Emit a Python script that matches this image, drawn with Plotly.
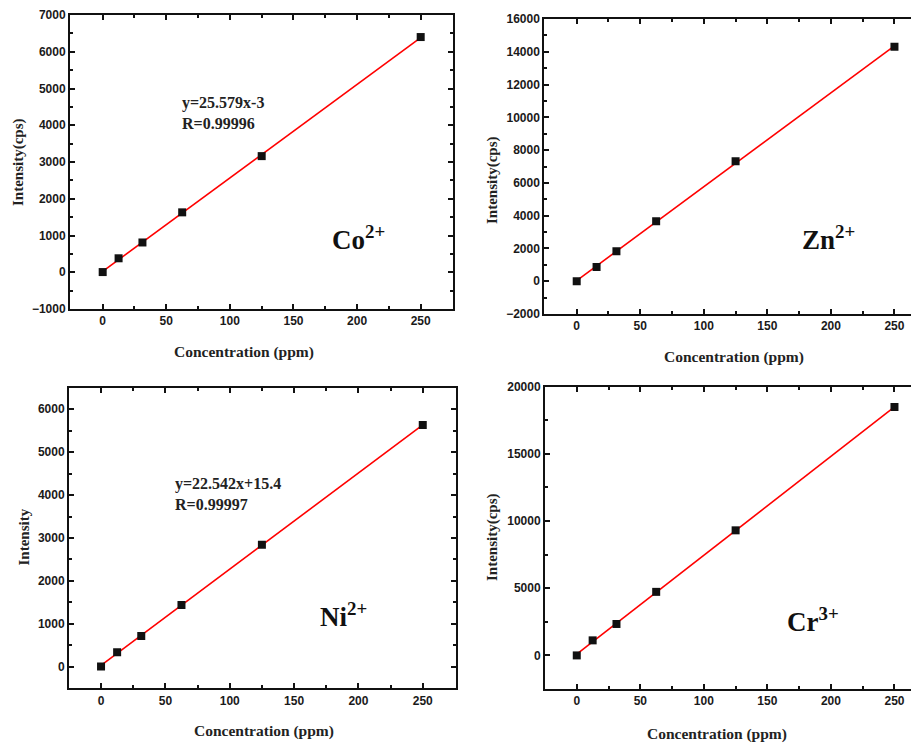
import numpy as np
import plotly.graph_objects as go

W, H = 919, 744
OFF = 8  # page body margin offset

# ---- data ----
co_x = [0, 12.5, 31.25, 62.5, 125, 250]
co_y = [5, 380, 810, 1630, 3160, 6400]
zn_x = [0, 15.625, 31.25, 62.5, 125, 250]
zn_y = [0, 875, 1830, 3660, 7320, 14300]
ni_x = [0, 12.5, 31.25, 62.5, 125, 250]
ni_y = [10, 340, 720, 1440, 2840, 5630]
cr_x = [0, 12.5, 31.25, 62.5, 125, 250]
cr_y = [0, 1120, 2340, 4730, 9310, 18480]

ion_labels = ["Co<sup>2+</sup>", "Zn<sup>2+</sup>", "Ni<sup>2+</sup>", "Cr<sup>3+</sup>"]
eq_texts = ["y=25.579x-3<br>R=0.99996", None, "y=22.542x+15.4<br>R=0.99997", None]
y_titles = ["Intensity(cps)", "Intensity(cps)", "Intensity", "Intensity(cps)"]
x_title = "Concentration (ppm)"

datasets = [(co_x, co_y), (zn_x, zn_y), (ni_x, ni_y), (cr_x, cr_y)]

# ---- layout geometry (viewport pixels) ----
# (left, right, top, bottom) of plot frames
frames = [(70, 453, 15, 309), (544.3, 927, 19, 314), (69, 455.7, 387.7, 688.3), (545, 927, 386.7, 689)]
xranges = [[-25.7, 275.4], [-25.5, 275.6], [-24.9, 275.6], [-25.0, 275.6]]
yranges = [[-1000, 7000], [-2000, 16000], [-500, 6500], [-2500, 20000]]
ydticks = [1000, 2000, 1000, 5000]
mirror_y = [True, False, True, False]

# annotation positions in data coords
eq_pos = [(60.8, 4578), None, (56.2, 4227), None]
ion_pos = [(178.7, 932), (175.7, 2656), (168.8, 1196), (163.9, 2667)]
# axis title centres in viewport pixels
xtitle_px = [(243.5, 351.7), (734, 356.7), (264, 730.7), (716.7, 734)]
ytitle_px = [(18, 162), (492, 180), (23, 537.5), (492, 537)]


def px(x):
    return (x - OFF) / W


def py(y):
    return 1 - (y - OFF) / H


fig = go.Figure()
tickfont = dict(family="Liberation Sans", size=12, color="#1a1a1a", weight="bold")
serif = "Liberation Serif"

for i, (xs, ys) in enumerate(datasets):
    n = "" if i == 0 else str(i + 1)
    xa, ya = "x" + n, "y" + n
    slope, icpt = np.polyfit(xs, ys, 1)
    fx = [min(xs), max(xs)]
    fy = [slope * v + icpt for v in fx]
    fig.add_trace(go.Scatter(x=fx, y=fy, mode="lines", line=dict(color="#ff0000", width=1.6),
                             xaxis=xa, yaxis=ya, showlegend=False, hoverinfo="skip"))
    fig.add_trace(go.Scatter(x=xs, y=ys, mode="markers",
                             marker=dict(symbol="square", size=8, color="#111111"),
                             xaxis=xa, yaxis=ya, showlegend=False))
    l, r, t, b = frames[i]
    axcommon = dict(showgrid=False, zeroline=False, showline=True, linecolor="#111111", linewidth=2,
                    ticks="inside", ticklen=5, tickwidth=1.5, tickcolor="#111111", tickfont=tickfont,
                    automargin=False, tickformat="d")
    fig.layout["xaxis" + n] = dict(domain=[px(l), min(px(r), 1.0)], range=xranges[i], anchor=ya,
                                   dtick=50, tick0=0, mirror="allticks",
                                   minor=dict(dtick=25, ticks="inside", ticklen=3, tickcolor="#111111"),
                                   **axcommon)
    fig.layout["yaxis" + n] = dict(domain=[py(b), py(t)], range=yranges[i], anchor=xa,
                                   dtick=ydticks[i], tick0=0,
                                   mirror="allticks" if mirror_y[i] else False,
                                   minor=dict(dtick=ydticks[i] / 2, ticks="inside", ticklen=3, tickcolor="#111111"),
                                   **axcommon)
    if eq_texts[i]:
        fig.add_annotation(x=eq_pos[i][0], y=eq_pos[i][1], xref=xa, yref=ya, text=eq_texts[i],
                           showarrow=False, xanchor="left", yanchor="middle", align="left",
                           yshift=-9,
                           font=dict(family=serif, size=16, color="#222222", weight="bold"))
    fig.add_annotation(x=ion_pos[i][0], y=ion_pos[i][1], xref=xa, yref=ya, text=ion_labels[i],
                       showarrow=False, xanchor="left", yanchor="middle",
                       font=dict(family=serif, size=27, color="#111111", weight="bold"))
    fig.add_annotation(x=px(xtitle_px[i][0]), y=py(xtitle_px[i][1]), xref="paper", yref="paper",
                       text=x_title, showarrow=False, xanchor="center", yanchor="middle",
                       font=dict(family=serif, size=15.5, color="#222222", weight="bold"))
    fig.add_annotation(x=px(ytitle_px[i][0]), y=py(ytitle_px[i][1]), xref="paper", yref="paper",
                       text=y_titles[i], showarrow=False, xanchor="center", yanchor="middle",
                       textangle=-90,
                       font=dict(family=serif, size=15, color="#222222", weight="bold"))

fig.update_layout(width=W, height=H, margin=dict(l=0, r=0, t=0, b=0),
                  paper_bgcolor="white", plot_bgcolor="white")
fig.write_html("out.html")
